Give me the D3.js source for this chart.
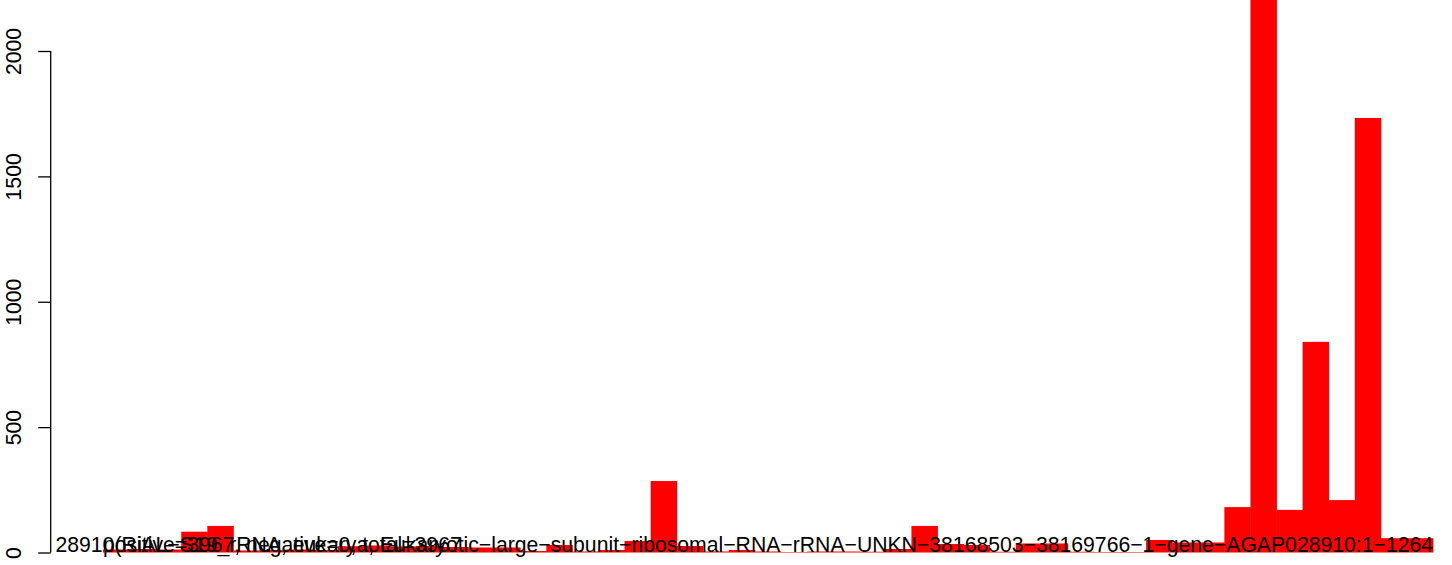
<!DOCTYPE html>
<html>
<head>
<meta charset="utf-8">
<script src="https://cdn.jsdelivr.net/npm/d3@7"></script>
<style>
  html, body { margin: 0; padding: 0; background: #fff; }
  svg { display: block; }
</style>
</head>
<body>
<div id="chart"></div>
<script>
// bar heights left to right
const counts = [
  12, 14, 12, 83, 106, 8, 10, 12, 10, 25,
  28, 24, 26, 22, 20, 20, 6, 30, 4, 10,
  46, 285, 26, 4, 10, 4, 2, 4, 4, 3,
  14, 106, 34, 30, 3, 36, 36, 3, 2, 2,
  50, 40, 40, 181, 2350, 170, 840, 209, 1733, 57,
  57
];
const categories = counts.map((d, i) => i + 1);
const yTicks = [0, 500, 1000, 1500, 2000];
const summaryLabel = 'positive=3967, negative=0, total=3967';
const nameLabel = '28910(RiAL\u2212S19_rRNA, eukarya, Eukaryotic\u2212large\u2212subunit\u2212ribosomal\u2212RNA\u2212rRNA\u2212UNKN\u221238168503\u221238169766\u22121\u2212gene\u2212AGAP028910:1\u22121264';

const width = 1452, height = 565;
const font = '"Liberation Sans", Arial, Helvetica, sans-serif';
const fontSize = 21.2;

const svg = d3.select('#chart').append('svg')
  .attr('width', width)
  .attr('height', height)
  .attr('viewBox', `0 0 ${width} ${height}`);

const x = d3.scaleBand()
  .domain(categories)
  .range([103, 1433])
  .padding(0);

const y = d3.scaleLinear()
  .domain([0, 2000])
  .range([552.5, 51]);

// plot region clip (R clips text/bars to the plot area)
svg.append('clipPath').attr('id', 'plot')
  .append('rect')
    .attr('x', 50.7).attr('y', 0)
    .attr('width', width - 50.7).attr('height', height);

svg.append('g')
    .attr('clip-path', 'url(#plot)')
  .selectAll('rect')
  .data(counts)
  .join('rect')
    .attr('x', (d, i) => x(categories[i]))
    .attr('width', x.bandwidth() + 0.4)
    .attr('y', d => y(d))
    .attr('height', d => y(0) - y(d))
    .attr('fill', '#ff0000');

// y axis in R style
const yAxis = g => g
  .attr('transform', 'translate(50.7,0)')
  .call(d3.axisLeft(y).tickValues(yTicks).tickSize(12.5).tickPadding(0).tickFormat(d3.format('d')))
  .call(g => g.select('.domain')
      .attr('d', `M0,${y(0)}V${y(2000)}`)
      .attr('stroke', '#000').attr('stroke-width', 1.3))
  .call(g => g.selectAll('.tick line').attr('stroke', '#000').attr('stroke-width', 1.3))
  .call(g => g.selectAll('.tick text')
      .attr('font-family', font)
      .attr('font-size', fontSize)
      .attr('fill', '#000')
      .attr('text-anchor', 'middle')
      .attr('x', null).attr('dy', null)
      .attr('transform', 'translate(-29.7,0) rotate(-90)'));

svg.append('g').call(yAxis);

// overlapping text labels drawn along the baseline
const notes = svg.append('g')
  .attr('clip-path', 'url(#plot)')
  .attr('font-family', font)
  .attr('font-size', fontSize)
  .attr('fill', '#000');

notes.append('text')
  .attr('x', x(categories[0]))
  .attr('y', y(0) - 0.5)
  .attr('text-anchor', 'start')
  .text(summaryLabel);

notes.append('text')
  .attr('x', x(categories[categories.length - 1]) + x.bandwidth())
  .attr('y', y(0) - 0.5)
  .attr('text-anchor', 'end')
  .text(nameLabel);
</script>
</body>
</html>
